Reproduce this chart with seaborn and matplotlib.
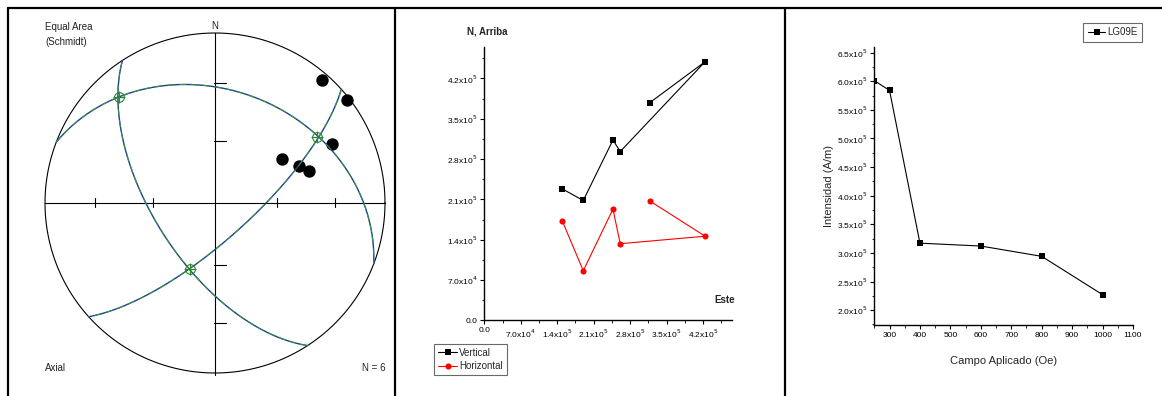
import numpy as np
import pandas as pd
import matplotlib
matplotlib.use('Agg')
import matplotlib.pyplot as plt
from matplotlib.lines import Line2D
from matplotlib.ticker import FixedLocator, MultipleLocator
import seaborn as sns

# ------------------------------------------------------------
# Data
# ------------------------------------------------------------
# stereonet: poles (trend / plunge, degrees) and principal axes
dot_trend = [41, 52, 63, 57, 66, 71]
dot_plunge = [5, 2, 24, 51, 45, 41]
axis_trend = [318, 57, 201]
axis_plunge = [17, 29, 56]

# middle panel: Este vs N, Arriba
este = [1.50e5, 1.90e5, 2.47e5, 2.61e5, 4.24e5, 3.18e5]
vertical = [2.28e5, 2.08e5, 3.13e5, 2.93e5, 4.49e5, 3.78e5]
horizontal = [1.72e5, 0.86e5, 1.93e5, 1.33e5, 1.46e5, 2.07e5]
mid_ticks = [0, 7.0e4, 1.4e5, 2.1e5, 2.8e5, 3.5e5, 4.2e5]
mid_labels = ["0.0", "7.0x10$^4$", "1.4x10$^5$", "2.1x10$^5$",
              "2.8x10$^5$", "3.5x10$^5$", "4.2x10$^5$"]

# right panel: intensity vs applied field
campo = [250, 300, 400, 600, 800, 1000]
intensidad = [6.01e5, 5.84e5, 3.17e5, 3.12e5, 2.94e5, 2.27e5]
right_xticks = [300, 400, 500, 600, 700, 800, 900, 1000, 1100]
right_yticks = [2.0e5, 2.5e5, 3.0e5, 3.5e5, 4.0e5, 4.5e5, 5.0e5, 5.5e5, 6.0e5, 6.5e5]
right_ylabels = ["2.0x10$^5$", "2.5x10$^5$", "3.0x10$^5$", "3.5x10$^5$", "4.0x10$^5$",
                 "4.5x10$^5$", "5.0x10$^5$", "5.5x10$^5$", "6.0x10$^5$", "6.5x10$^5$"]

# ------------------------------------------------------------
# Style
# ------------------------------------------------------------
sns.set_theme(style="ticks")
plt.rcParams['font.family'] = ['Liberation Sans Narrow', 'Liberation Sans', 'DejaVu Sans']
plt.rcParams['mathtext.fontset'] = 'custom'
plt.rcParams['mathtext.rm'] = 'Liberation Sans Narrow'
plt.rcParams['mathtext.it'] = 'Liberation Sans Narrow'
plt.rcParams['mathtext.bf'] = 'Liberation Sans Narrow:bold'

W, H = 1162, 396
fig = plt.figure(figsize=(W / 100, H / 100), dpi=100)


def px_axes(left, top, right, bottom):
    return fig.add_axes([left / W, 1 - bottom / H, (right - left) / W, (bottom - top) / H])


def vec(trend, plunge):
    t, p = np.radians(trend), np.radians(plunge)
    return np.array([np.cos(p) * np.sin(t), np.cos(p) * np.cos(t), np.sin(p)])


def project(v):
    # lower hemisphere equal area (Schmidt), unit circle
    v = np.atleast_2d(v)
    s = 1.0 / np.sqrt(1.0 + v[:, 2])
    return v[:, 0] * s, v[:, 1] * s


# ------------------------------------------------------------
# Panel 1: stereonet
# ------------------------------------------------------------
R = 170.0
cx, cy = 215.0, 203.0
ax1 = px_axes(8, 8, 395, 396)
ax1.set_xlim((8 - cx) / R, (395 - cx) / R)
ax1.set_ylim((cy - 396) / R, (cy - 8) / R)
ax1.axis('off')

th = np.linspace(0, 2 * np.pi, 400)
ax1.plot(np.cos(th), np.sin(th), color='black', lw=0.8)
ax1.plot([-1, 1], [0, 0], color='black', lw=0.8)
ax1.plot([0, 0], [-1.01, 1], color='black', lw=0.8)
for r in [0.366, 0.707]:
    for s in [-1, 1]:
        ax1.plot([s * r, s * r], [-0.025, 0.03], color='black', lw=0.8)
        ax1.plot([-0.005, 0.065], [s * r, s * r], color='black', lw=0.8)

# great circles: plane through each pair of principal axes
t = np.linspace(0, np.pi, 200)
for tr, pl in zip(axis_trend, axis_plunge):
    pole = vec(tr, pl)
    h = np.cross(pole, [0, 0, 1])
    h = h / np.linalg.norm(h)
    d = np.cross(h, pole)
    if d[2] < 0:
        d = -d
    pts = np.outer(np.cos(t), h) + np.outer(np.sin(t), d)
    gx, gy = project(pts)
    ax1.plot(gx, gy, color='#1b3f8f', lw=1.0)
    ax1.plot(gx, gy, color='#3a9a3a', lw=0.7, dashes=(7, 5))

ax_x, ax_y = project(np.array([vec(a, b) for a, b in zip(axis_trend, axis_plunge)]))
ax1.plot(ax_x, ax_y, ls='none', marker='+', color='#2030c0', ms=7, mew=0.8)
ax1.plot(ax_x, ax_y, ls='none', marker='o', mfc='none', mec='#2a8a2a', ms=7, mew=0.8)
ax1.plot(ax_x, ax_y, ls='none', marker='+', color='#2a8a2a', ms=9, mew=0.8)

dx, dy = project(np.array([vec(a, b) for a, b in zip(dot_trend, dot_plunge)]))
sns.scatterplot(x=dx, y=dy, ax=ax1, color='black', s=80, edgecolor='black', linewidth=0)

tkw = dict(fontsize=7, family=['Liberation Sans', 'DejaVu Sans'], color='#222222')
ax1.text((45 - cx) / R, (cy - 27) / R, "Equal Area", ha='left', va='center', **tkw)
ax1.text((45 - cx) / R, (cy - 42) / R, "(Schmidt)", ha='left', va='center', **tkw)
ax1.text(0, (cy - 26) / R, "N", ha='center', va='center', **tkw)
ax1.text((45 - cx) / R, (cy - 368) / R, "Axial", ha='left', va='center', **tkw)
ax1.text((386 - cx) / R, (cy - 368) / R, "N = 6", ha='right', va='center', **tkw)

# ------------------------------------------------------------
# Panel 2: N, Arriba vs Este
# ------------------------------------------------------------
ax2 = px_axes(484.3, 46.7, 731.7, 320.3)
sns.lineplot(x=este, y=vertical, ax=ax2, sort=False, estimator=None, color='black',
             lw=0.8, marker='s', markersize=3.8, markeredgewidth=0, label='Vertical')
sns.lineplot(x=este, y=horizontal, ax=ax2, sort=False, estimator=None, color='red',
             lw=0.8, marker='o', markersize=4.4, markeredgewidth=0, label='Horizontal')
ax2.set_xlim(0, 4.75e5)
ax2.set_ylim(0, 4.75e5)
for a in (ax2.xaxis, ax2.yaxis):
    a.set_major_locator(FixedLocator(mid_ticks))
    a.set_minor_locator(MultipleLocator(3.5e4))
ax2.set_xticklabels(mid_labels)
ax2.set_yticklabels(mid_labels)
fig.text(467 / W, 1 - 31 / H, "N, Arriba", fontsize=7, fontweight='bold', ha='left', va='center')
fig.text(725 / W, 1 - 300 / H, "Este", fontsize=7, fontweight='bold', ha='center', va='center')
leg2 = ax2.legend(loc='upper left', bbox_to_anchor=(434 / W, 1 - 344 / H),
                  bbox_transform=fig.transFigure, fontsize=7, frameon=True,
                  fancybox=False, edgecolor='#444444', borderpad=0.4,
                  handlelength=2.0, handletextpad=0.2, labelspacing=0.35, borderaxespad=0)
leg2.get_frame().set_linewidth(0.8)
ax2.set_xlabel("")
ax2.set_ylabel("")

# ------------------------------------------------------------
# Panel 3: Intensidad vs Campo Aplicado
# ------------------------------------------------------------
ax3 = px_axes(874.3, 46.9, 1133.0, 325)
sns.lineplot(x=campo, y=intensidad, ax=ax3, sort=False, estimator=None, color='black',
             lw=0.8, marker='s', markersize=4, markeredgewidth=0, label='LG09E')
ax3.set_xlim(250, 1100)
ax3.set_ylim(1.74e5, 6.6e5)
ax3.xaxis.set_major_locator(FixedLocator(right_xticks))
ax3.xaxis.set_minor_locator(MultipleLocator(50))
ax3.set_xticklabels([str(v) for v in right_xticks])
ax3.yaxis.set_major_locator(FixedLocator(right_yticks))
ax3.yaxis.set_minor_locator(MultipleLocator(2.5e4))
ax3.set_yticklabels(right_ylabels)
ax3.set_xlabel("Campo Aplicado (Oe)", fontsize=8, labelpad=12)
ax3.set_ylabel("Intensidad (A/m)", fontsize=8, family=['Liberation Sans', 'DejaVu Sans'], labelpad=2)
leg3 = ax3.legend(loc='upper right', bbox_to_anchor=(1142 / W, 1 - 23 / H),
                  bbox_transform=fig.transFigure, fontsize=7, frameon=True,
                  fancybox=False, edgecolor='#444444', borderpad=0.45,
                  handlelength=1.8, handletextpad=0.2, borderaxespad=0)
leg3.get_frame().set_linewidth(0.8)

for ax in (ax2, ax3):
    sns.despine(ax=ax)
    for sp in ('left', 'bottom'):
        ax.spines[sp].set_linewidth(1.0)
        ax.spines[sp].set_color('black')
    ax.tick_params(which='major', direction='out', length=3, width=0.8,
                   labelsize=6, pad=2, colors='black')
    ax.tick_params(which='minor', direction='out', length=1.8, width=0.6, colors='black')
    ax.set_facecolor('none')

# ------------------------------------------------------------
# Panel borders
# ------------------------------------------------------------
for xs, ys in [((8, W), (8, 8)), ((8, 8), (8, H)), ((395, 395), (8, H)), ((785, 785), (8, H))]:
    fig.add_artist(Line2D([x / W for x in xs], [1 - y / H for y in ys],
                          color='black', lw=1.6, transform=fig.transFigure))

fig.savefig("out.png", dpi=100)
